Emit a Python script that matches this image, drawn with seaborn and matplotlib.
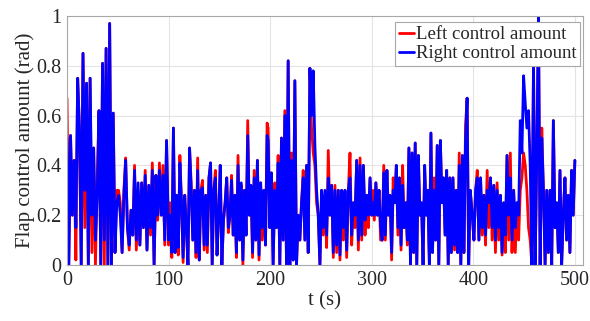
import numpy as np
import pandas as pd
import matplotlib
matplotlib.use("Agg")
import matplotlib.pyplot as plt
import seaborn as sns

# ---- data (5 segments of the 0-500 s record) ----
seg_spans = [(0, 98), (100, 197), (198, 300), (301, 397), (399, 500)]

right_a = [0.51, 0.0, 0.52, 0.2, 0.42, 0.15, 0.75, 0.55, 0.0, 0.85, 0.3, 0.73, 0.0, 0.75, 0.2, 0.47,
           0.1, 0.28, 0.62, 0.0, 0.81, 0.1, 0.87, 0.0, 0.97, 0.0, 0.61, 0.05, 0.25, 0.28, 0.2, 0.05,
           0.28, 0.42, 0.15, 0.08, 0.22, 0.12, 0.38, 0.1, 0.33, 0.08, 0.33, 0.15, 0.36, 0.06, 0.32,
           0.15, 0.38, 0.0, 0.36, 0.2, 0.38, 0.2, 0.36, 0.1, 0.5]
left_a = [0.67, 0.0, 0.52, 0.2, 0.42, 0.02, 0.75, 0.55, 0.0, 0.85, 0.15, 0.73, 0.0, 0.75, 0.05, 0.47,
          0.0, 0.35, 0.62, 0.0, 0.81, 0.0, 0.87, 0.0, 0.97, 0.0, 0.61, 0.05, 0.3, 0.3, 0.25, 0.05,
          0.3, 0.43, 0.15, 0.06, 0.22, 0.12, 0.4, 0.06, 0.3, 0.08, 0.33, 0.15, 0.38, 0.06, 0.32,
          0.12, 0.41, 0.0, 0.36, 0.18, 0.41, 0.2, 0.4, 0.08, 0.5]

right_b = [0.1, 0.2, 0.05, 0.55, 0.05, 0.28, 0.07, 0.41, 0.25, 0.03, 0.28, 0.15, 0.0, 0.47, 0.3, 0.1,
           0.3, 0.05, 0.38, 0.02, 0.3, 0.31, 0.08, 0.28, 0.08, 0.35, 0.41, 0.0, 0.3, 0.35, 0.04, 0.2,
           0.4, 0.0, 0.18, 0.25, 0.35, 0.15, 0.2, 0.34, 0.12, 0.28, 0.05, 0.4, 0.1, 0.33, 0.02, 0.3,
           0.12, 0.52, 0.2, 0.32, 0.05, 0.35, 0.1, 0.42, 0.04, 0.33, 0.15, 0.3, 0.08, 0.52]
left_b = [0.08, 0.25, 0.03, 0.55, 0.05, 0.28, 0.04, 0.44, 0.25, 0.01, 0.28, 0.15, 0.0, 0.47, 0.33, 0.1,
          0.3, 0.03, 0.43, 0.02, 0.3, 0.34, 0.06, 0.28, 0.05, 0.35, 0.41, 0.0, 0.3, 0.38, 0.04, 0.2,
          0.4, 0.0, 0.18, 0.25, 0.35, 0.13, 0.2, 0.36, 0.12, 0.28, 0.03, 0.44, 0.1, 0.32, 0.0, 0.3,
          0.12, 0.58, 0.2, 0.32, 0.03, 0.38, 0.1, 0.42, 0.02, 0.33, 0.1, 0.3, 0.08, 0.57]

right_c = [0.5, 0.15, 0.37, 0.0, 0.3, 0.15, 0.41, 0.0, 0.51, 0.1, 0.6, 0.0, 0.82, 0.0, 0.42, 0.02,
           0.74, 0.0, 0.2, 0.1, 0.25, 0.35, 0.1, 0.4, 0.05, 0.79, 0.6, 0.78, 0.48, 0.3, 0.2, 0.0,
           0.3, 0.15, 0.3, 0.12, 0.35, 0.2, 0.32, 0.05, 0.3, 0.08, 0.3, 0.04, 0.3, 0.15, 0.3, 0.06,
           0.3, 0.35, 0.12, 0.25, 0.2, 0.42, 0.1, 0.4, 0.12, 0.4, 0.18, 0.28, 0.2, 0.35, 0.2]
left_c = [0.55, 0.15, 0.37, 0.0, 0.33, 0.15, 0.44, 0.0, 0.51, 0.1, 0.62, 0.0, 0.82, 0.0, 0.45, 0.02,
          0.74, 0.0, 0.2, 0.1, 0.25, 0.38, 0.1, 0.4, 0.05, 0.79, 0.55, 0.45, 0.4, 0.25, 0.2, 0.0,
          0.3, 0.12, 0.28, 0.07, 0.46, 0.2, 0.32, 0.03, 0.32, 0.05, 0.3, 0.02, 0.3, 0.1, 0.3, 0.03,
          0.3, 0.45, 0.08, 0.25, 0.15, 0.42, 0.06, 0.43, 0.1, 0.4, 0.12, 0.28, 0.15, 0.35, 0.2]

right_d = [0.25, 0.2, 0.33, 0.2, 0.3, 0.15, 0.1, 0.37, 0.12, 0.38, 0.2, 0.28, 0.05, 0.3, 0.25, 0.4,
           0.15, 0.35, 0.08, 0.32, 0.15, 0.25, 0.1, 0.47, 0.0, 0.45, 0.05, 0.49, 0.0, 0.44, 0.2, 0.25,
           0.0, 0.4, 0.2, 0.3, 0.0, 0.53, 0.05, 0.3, 0.1, 0.48, 0.0, 0.5, 0.25, 0.35, 0.12, 0.38,
           0.0, 0.35, 0.05, 0.35, 0.08, 0.3, 0.05, 0.4, 0.0, 0.44, 0.05, 0.5, 0.67, 0.0, 0.3]
left_d = [0.3, 0.18, 0.33, 0.2, 0.3, 0.1, 0.1, 0.4, 0.1, 0.38, 0.2, 0.28, 0.02, 0.35, 0.25, 0.4,
          0.12, 0.35, 0.06, 0.4, 0.15, 0.25, 0.08, 0.47, 0.0, 0.45, 0.05, 0.49, 0.0, 0.44, 0.2, 0.25,
          0.0, 0.4, 0.2, 0.3, 0.0, 0.53, 0.05, 0.35, 0.1, 0.48, 0.0, 0.5, 0.25, 0.35, 0.12, 0.38,
          0.0, 0.35, 0.05, 0.35, 0.06, 0.3, 0.05, 0.45, 0.0, 0.44, 0.05, 0.56, 0.67, 0.0, 0.3]

right_e = [0.2, 0.1, 0.3, 0.35, 0.1, 0.35, 0.15, 0.28, 0.12, 0.3, 0.25, 0.35, 0.15, 0.32, 0.1, 0.3,
           0.15, 0.28, 0.05, 0.25, 0.12, 0.44, 0.2, 0.35, 0.1, 0.3, 0.15, 0.25, 0.2, 0.58, 0.45, 0.76,
           0.65, 0.55, 0.62, 0.4, 0.0, 0.8, 0.0, 0.45, 1.0, 0.0, 0.51, 0.3, 0.0, 0.3, 0.05, 0.3,
           0.0, 0.58, 0.15, 0.25, 0.05, 0.38, 0.0, 0.2, 0.35, 0.1, 0.28, 0.05, 0.38, 0.2, 0.42]
left_e = [0.2, 0.1, 0.3, 0.38, 0.1, 0.35, 0.12, 0.28, 0.08, 0.38, 0.15, 0.35, 0.1, 0.32, 0.05, 0.33,
          0.1, 0.28, 0.04, 0.25, 0.05, 0.44, 0.1, 0.45, 0.05, 0.3, 0.05, 0.25, 0.1, 0.3, 0.35, 0.45,
          0.4, 0.3, 0.15, 0.1, 0.0, 0.83, 0.0, 0.45, 1.0, 0.0, 0.55, 0.3, 0.0, 0.3, 0.05, 0.3,
          0.0, 0.58, 0.15, 0.25, 0.05, 0.38, 0.0, 0.2, 0.35, 0.1, 0.28, 0.05, 0.38, 0.2, 0.42]

right_segs = [right_a, right_b, right_c, right_d, right_e]
left_segs = [left_a, left_b, left_c, left_d, left_e]

label_left = "Left control amount"
label_right = "Right control amount"
x_ticks = [0, 100, 200, 300, 400, 500]
y_ticks = [0, 0.2, 0.4, 0.6, 0.8, 1.0]
y_tick_labels = ["0", "0.2", "0.4", "0.6", "0.8", "1"]

# ---- build long-form table ----
rows = []
for (t0, t1), lv, rv in zip(seg_spans, left_segs, right_segs):
    tt = np.linspace(t0, t1, len(rv))
    for ti, a, b in zip(tt, lv, rv):
        rows.append((ti, a, label_left))
        rows.append((ti, b, label_right))
df = pd.DataFrame(rows, columns=["t", "v", "series"])

sns.set_style("white")
plt.rcParams["font.family"] = ["Liberation Serif", "DejaVu Serif"]

W, H = 590, 321
fig = plt.figure(figsize=(W / 100, H / 100), dpi=100)
ax = fig.add_axes([67 / W, 1 - 265 / H, (583 - 67) / W, (265 - 16) / H])

sns.lineplot(data=df, x="t", y="v", hue="series", hue_order=[label_left, label_right],
             palette={label_left: "#ff0000", label_right: "#0000ff"},
             estimator=None, sort=False, linewidth=2.0, ax=ax)

ax.set_xlim(0, 508)
ax.set_ylim(0, 1)
ax.set_xticks(x_ticks)
ax.set_yticks(y_ticks)
ax.set_yticklabels(y_tick_labels)
ax.grid(True, color="#e3e3e3", linewidth=0.8)
ax.set_axisbelow(True)
for s in ax.spines.values():
    s.set_color("#a8a8a8")
    s.set_linewidth(0.8)
ax.tick_params(axis="both", direction="in", length=3, color="#a8a8a8",
               labelsize=14.5, labelcolor="#262626", pad=4)
ax.set_xlabel("t (s)", fontsize=15, color="#262626", labelpad=1)
ax.set_ylabel("Flap control amount (rad)", fontsize=15, color="#262626", labelpad=1)

leg = ax.legend(loc="upper right", bbox_to_anchor=(0.994, 0.975), fontsize=13.5, frameon=True,
                fancybox=False, handlelength=0.8, handletextpad=0.1, borderpad=0.2,
                labelspacing=0.1, borderaxespad=0.0, framealpha=1)
leg.get_frame().set_edgecolor("#a8a8a8")
leg.get_frame().set_linewidth(0.8)
for line in leg.get_lines():
    line.set_linewidth(2.0)
leg.set_zorder(5)

fig.savefig("out.png", dpi=100)
